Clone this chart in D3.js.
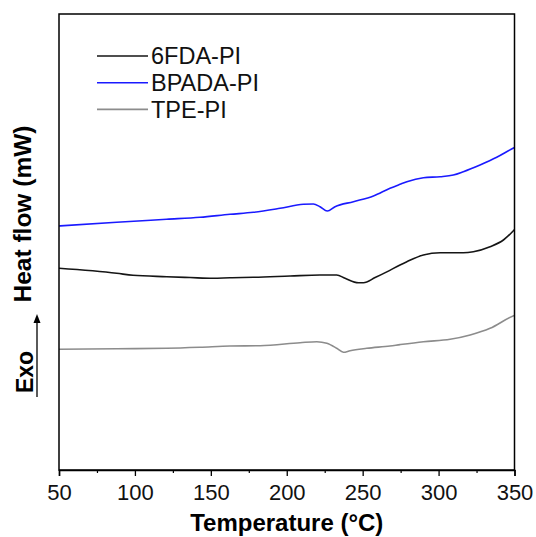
<!DOCTYPE html>
<html>
<head>
<meta charset="utf-8">
<script src="https://cdn.jsdelivr.net/npm/d3@7"></script>
<style>
  html, body { margin: 0; padding: 0; background: #fff; }
  svg { display: block; font-family: 'Liberation Sans', Arial, sans-serif; }
</style>
</head>
<body>
<div id="chart"></div>
<script>
// DSC traces (relative heat flow, arbitrary units)
const fdaTemp = [50, 88, 98.7, 120.9, 136.3, 151.4, 162.6, 178, 202.2, 221.9, 232.9, 238.4, 247.2, 250.5, 258.2, 265.9, 274.6, 279.1, 290, 301, 316.3, 322.9, 333.9, 342.7, 349.1, 350];
const fdaFlow = [44.23, 43.14, 42.70, 42.39, 42.21, 42.04, 42.17, 42.26, 42.54, 42.76, 42.76, 42.04, 41.07, 41.07, 42.20, 43.45, 44.96, 45.68, 47.15, 47.65, 47.65, 47.87, 48.97, 50.44, 52.41, 52.74];

const bpadaTemp = [50, 88, 120.9, 142.9, 162.6, 178, 195.6, 210.9, 217.5, 221.9, 226.7, 231.8, 243.9, 257.1, 268, 274.6, 279.1, 290, 301, 309.7, 316.3, 327.3, 338.3, 347.8, 350];
const bpadaFlow = [53.51, 54.32, 54.98, 55.42, 56.07, 56.51, 57.39, 58.27, 58.33, 57.74, 56.80, 57.74, 58.84, 60.09, 61.78, 62.65, 63.22, 64.10, 64.32, 64.69, 65.42, 66.89, 68.57, 70.33, 70.72];

const tpeTemp = [50, 88, 120.9, 142.9, 162.6, 182.4, 208.8, 219.8, 226.4, 232.9, 237.3, 241.7, 252.7, 268, 274.6, 290, 307.6, 320.8, 333.9, 349.1, 350];
const tpeFlow = [26.47, 26.60, 26.69, 26.91, 27.19, 27.26, 27.92, 28.14, 27.79, 26.69, 25.81, 26.16, 26.69, 27.20, 27.50, 28.14, 28.66, 29.61, 31.07, 33.77, 33.88];

const seriesNames = ['6FDA-PI', 'BPADA-PI', 'TPE-PI'];
const seriesColors = ['#151515', '#1a1aff', '#8c8c8c'];
const xTicks = [50, 100, 150, 200, 250, 300, 350];
const xMinorTicks = [75, 125, 175, 225, 275, 325];

const width = 536, height = 537;
const margin = { top: 14, right: 21.5, bottom: 67, left: 59 };
const innerW = width - margin.left - margin.right;
const innerH = height - margin.top - margin.bottom;

const svg = d3.select('#chart').append('svg')
  .attr('width', width)
  .attr('height', height);

const g = svg.append('g').attr('transform', `translate(${margin.left},${margin.top})`);

const x = d3.scaleLinear().domain([50, 350]).range([0, innerW]);
const y = d3.scaleLinear().domain([0, 100]).range([innerH, 0]);

const series = [
  { name: seriesNames[0], color: seriesColors[0], pts: fdaTemp.map((t, i) => [t, fdaFlow[i]]) },
  { name: seriesNames[1], color: seriesColors[1], pts: bpadaTemp.map((t, i) => [t, bpadaFlow[i]]) },
  { name: seriesNames[2], color: seriesColors[2], pts: tpeTemp.map((t, i) => [t, tpeFlow[i]]) }
];

const line = d3.line()
  .x(d => x(d[0]))
  .y(d => y(d[1]))
  .curve(d3.curveMonotoneX);

series.forEach(s => {
  g.append('path')
    .datum(s.pts)
    .attr('fill', 'none')
    .attr('stroke', s.color)
    .attr('stroke-width', 1.6)
    .attr('stroke-linejoin', 'round')
    .attr('d', line);
});

// frame
g.append('rect')
  .attr('x', 0).attr('y', 0)
  .attr('width', innerW).attr('height', innerH)
  .attr('fill', 'none')
  .attr('stroke', '#000')
  .attr('stroke-width', 1.5);

// bottom axis: major + minor ticks
const xAxis = g.append('g')
  .attr('transform', `translate(0,${innerH})`)
  .call(d3.axisBottom(x).tickValues(xTicks).tickSize(6).tickPadding(8).tickFormat(d3.format('d')));
xAxis.select('.domain').attr('stroke-width', 1.5);
xAxis.selectAll('.tick line').attr('stroke-width', 1.3);
xAxis.selectAll('.tick text')
  .style('font-size', '22px')
  .style('font-family', "'Liberation Sans', Arial, sans-serif")
  .attr('fill', '#111');

g.append('g')
  .attr('transform', `translate(0,${innerH})`)
  .call(d3.axisBottom(x).tickValues(xMinorTicks).tickSize(3).tickFormat(''))
  .call(a => a.select('.domain').remove())
  .selectAll('.tick line').attr('stroke-width', 1.2);

// axis titles
svg.append('text')
  .attr('x', margin.left + innerW / 2)
  .attr('y', 531)
  .attr('text-anchor', 'middle')
  .style('font-size', '24px')
  .style('font-weight', '700')
  .text('Temperature (°C)');

svg.append('text')
  .attr('transform', 'translate(31,214) rotate(-90)')
  .attr('text-anchor', 'middle')
  .style('font-size', '24.5px')
  .style('font-weight', '700')
  .text('Heat flow (mW)');

svg.append('text')
  .attr('transform', 'translate(33,372) rotate(-90)')
  .attr('text-anchor', 'middle')
  .style('font-size', '23px')
  .style('font-weight', '700')
  .text('Exo');

// exo arrow
svg.append('line')
  .attr('x1', 37).attr('x2', 37)
  .attr('y1', 397).attr('y2', 321)
  .attr('stroke', '#000')
  .attr('stroke-width', 1.3);
svg.append('path')
  .attr('d', 'M37,314 L33.5,323 L40.5,323 Z')
  .attr('fill', '#000');

// legend
const legend = svg.append('g').attr('transform', 'translate(97,56)');
series.forEach((s, i) => {
  const row = legend.append('g').attr('transform', `translate(0,${i * 26.7})`);
  row.append('line')
    .attr('x1', 0).attr('x2', 51)
    .attr('stroke', s.color)
    .attr('stroke-width', 1.6);
  row.append('text')
    .attr('x', 54)
    .attr('dy', '0.35em')
    .style('font-size', '23.5px')
    .attr('fill', '#111')
    .text(s.name);
});
</script>
</body>
</html>
